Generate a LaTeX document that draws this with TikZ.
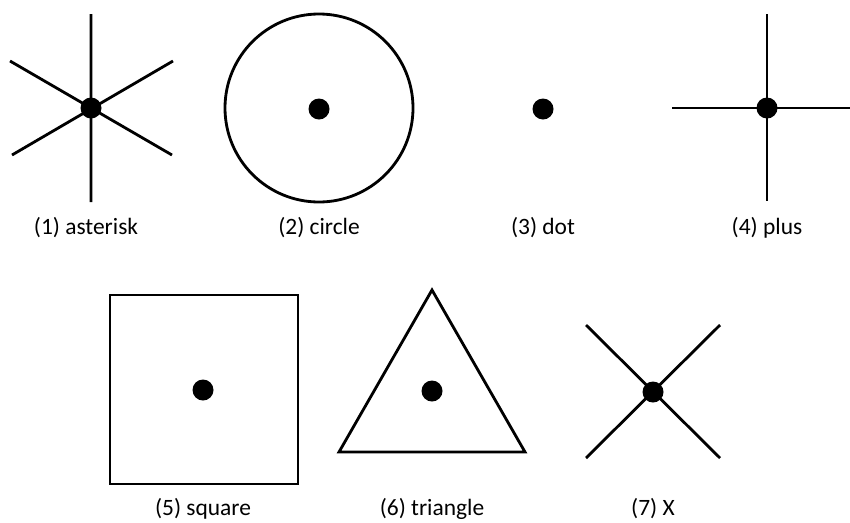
\documentclass[tikz,border=0pt]{standalone}
\usepackage{fontspec}
\setmainfont{Carlito}

\begin{document}
\begin{tikzpicture}[x=0.03cm, y=-0.03cm, line width=2.4pt,
    every node/.style={font=\fontsize{20}{24}\selectfont},
    blob/.style={circle, fill=black, inner sep=0pt, minimum size=0.63cm}]
    \useasboundingbox (0,0) rectangle (850,522);
    % top row
    \node[blob] (ast) at (91,108) {};
    \draw (91,14) -- (91,202) (10,61) -- (172,155) (12,155) -- (173,61);
    \node (lbl1) at (86,228) {(1) asterisk};
    \draw (319,108) circle (94);
    \node[blob] (cir) at (319,109) {};
    \node (lbl2) at (319,228) {(2) circle};
    \node[blob] (dot) at (543,109) {};
    \node (lbl3) at (543,228) {(3) dot};
    \draw (767,14) -- (767,201) (672,108) -- (850,108);
    \node[blob] (plus) at (767,108) {};
    \node (lbl4) at (767,228) {(4) plus};
    % bottom row
    \draw (110,295) rectangle (298,484);
    \node[blob] (sq) at (203,390) {};
    \node (lbl5) at (203,509) {(5) square};
    \draw[line join=miter] (432,290) -- (525,452) -- (339,452) -- cycle;
    \node[blob] (tri) at (432,391) {};
    \node (lbl6) at (432,509) {(6) triangle};
    \draw (586,325) -- (720,458) (586,458) -- (720,325);
    \node[blob] (x) at (653,392) {};
    \node[inner sep=1pt] (lbl7) at (653,509) {(7) X};
\end{tikzpicture}
\end{document}
